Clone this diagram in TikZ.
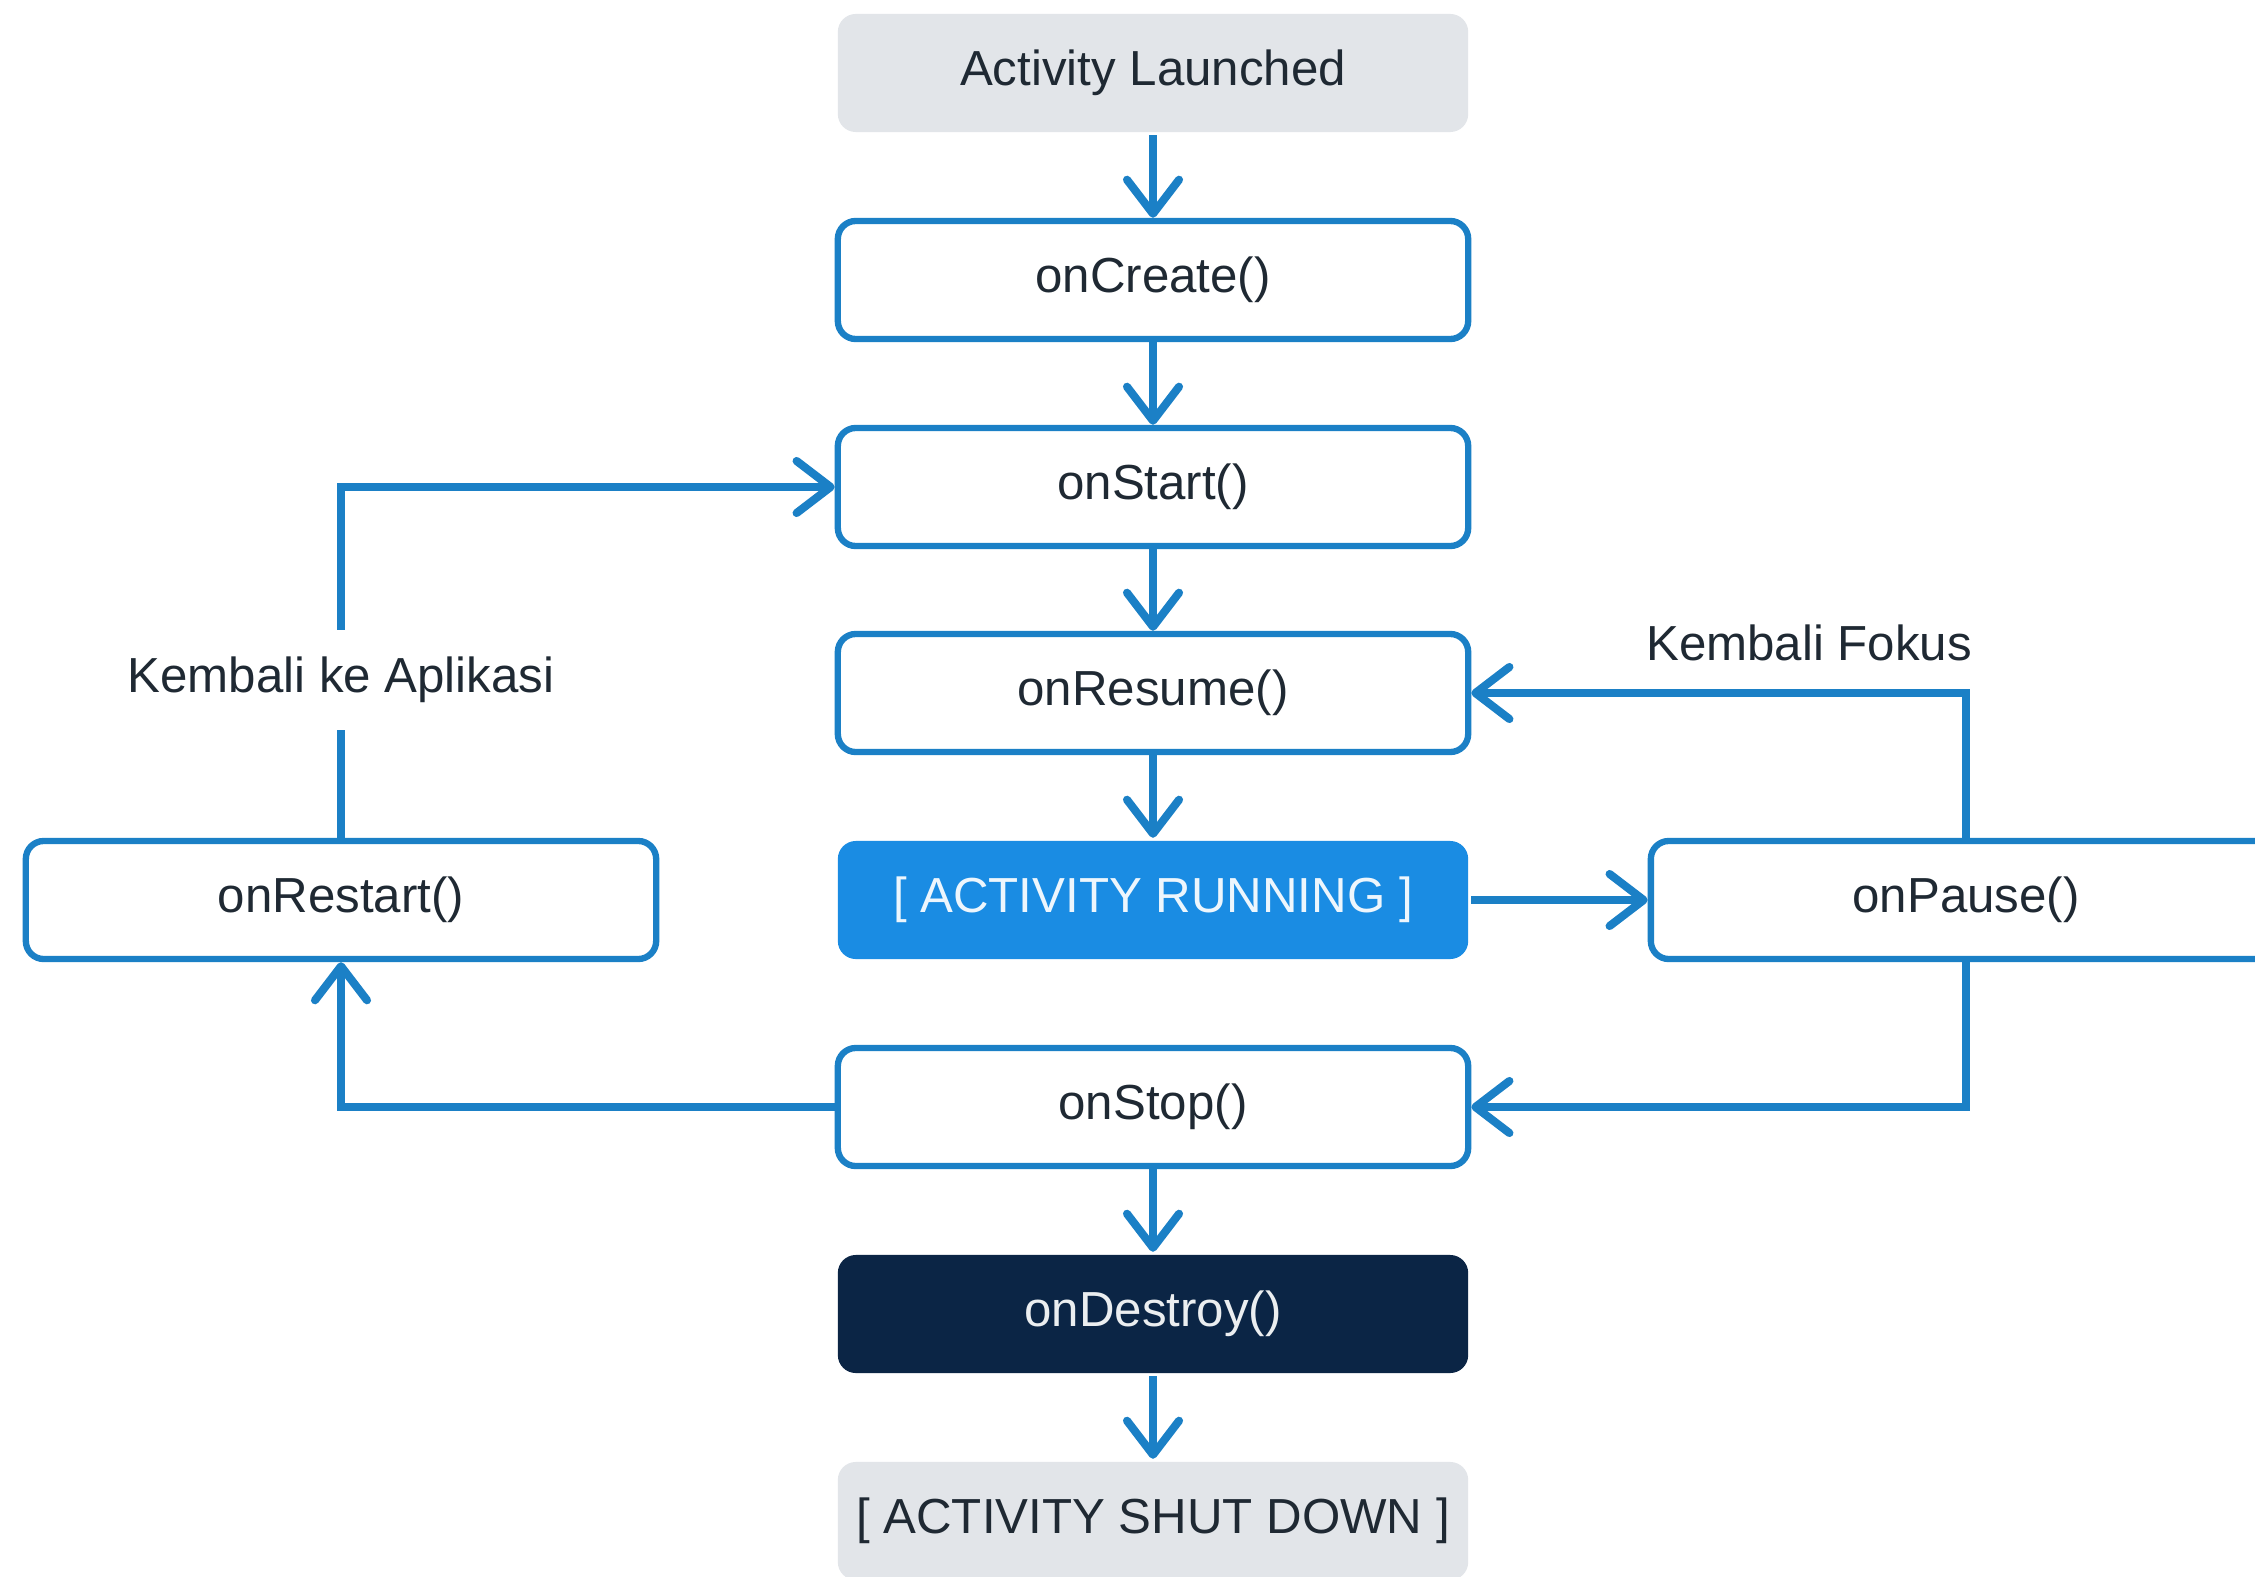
\documentclass[tikz,border=0pt]{standalone}
\usepackage{fontspec}
\setmainfont{Liberation Sans}
\usetikzlibrary{arrows.meta}
\definecolor{flowblue}{HTML}{1B80C6}
\definecolor{runblue}{HTML}{1A8CE3}
\definecolor{navy}{HTML}{0B2545}
\definecolor{softgray}{HTML}{E2E5E9}
\definecolor{ink}{HTML}{1F2933}

\begin{document}
\begin{tikzpicture}[x=0.01cm, y=-0.01cm,
    box/.style={draw=flowblue, line width=1.8pt, rounded corners=0.18cm, fill=white,
        minimum width=6.3cm, minimum height=1.18cm, text=ink,
        font=\fontsize{14}{17}\selectfont},
    endbox/.style={box, draw=none, fill=softgray},
    runbox/.style={box, draw=none, fill=runblue, text=white!92!runblue},
    killbox/.style={box, draw=none, fill=navy, text=white!92!navy},
    lbl/.style={text=ink, font=\fontsize{14}{17}\selectfont},
    flow/.style={draw=flowblue, line width=2.3pt,
        -{Straight Barb[length=0.34cm, width=0.52cm, line cap=round, line join=round]}}]
    \fill[white] (0,0) rectangle (2255,1576);
    \useasboundingbox (0,0) rectangle (2255,1576);

    % Main column
    \node[endbox]  (launch)  at (1153,73)   {Activity Launched};
    \node[box]     (create)  at (1153,280)  {onCreate()};
    \node[box]     (start)   at (1153,487)  {onStart()};
    \node[box]     (resume)  at (1153,693)  {onResume()};
    \node[runbox]  (running) at (1153,900)  {[ ACTIVITY RUNNING ]};
    \node[box]     (stop)    at (1153,1107) {onStop()};
    \node[killbox] (destroy) at (1153,1314) {onDestroy()};
    \node[endbox]  (shut)    at (1153,1521) {[ ACTIVITY SHUT DOWN ]};

    % Side states
    \node[box] (restart) at (341,900)  {onRestart()};
    \node[box] (pause)   at (1966,900) {onPause()};

    \draw[flow] (launch) -- (create);
    \draw[flow] (create) -- (start);
    \draw[flow] (start) -- (resume);
    \draw[flow] (resume) -- (running);
    \draw[flow] (stop) -- (destroy);
    \draw[flow] (destroy) -- (shut);
    \draw[flow] (running) -- (pause);

    % Right-side loop
    \node[lbl] (focus) at (1809,643) {Kembali Fokus};
    \draw[flow] (pause.north) |- (resume.east);
    \draw[flow] (pause.south) |- (stop.east);

    % Left-side loop
    \node[lbl] (backapp) at (341,680) {Kembali ke Aplikasi};
    \draw[flow] (stop.west) -| (restart.south);
    \draw[flow, -] (restart.north) -- ([yshift=-0.15cm]backapp.south);
    \draw[flow] ([yshift=0.15cm]backapp.north) |- (start.west);
\end{tikzpicture}
\end{document}
